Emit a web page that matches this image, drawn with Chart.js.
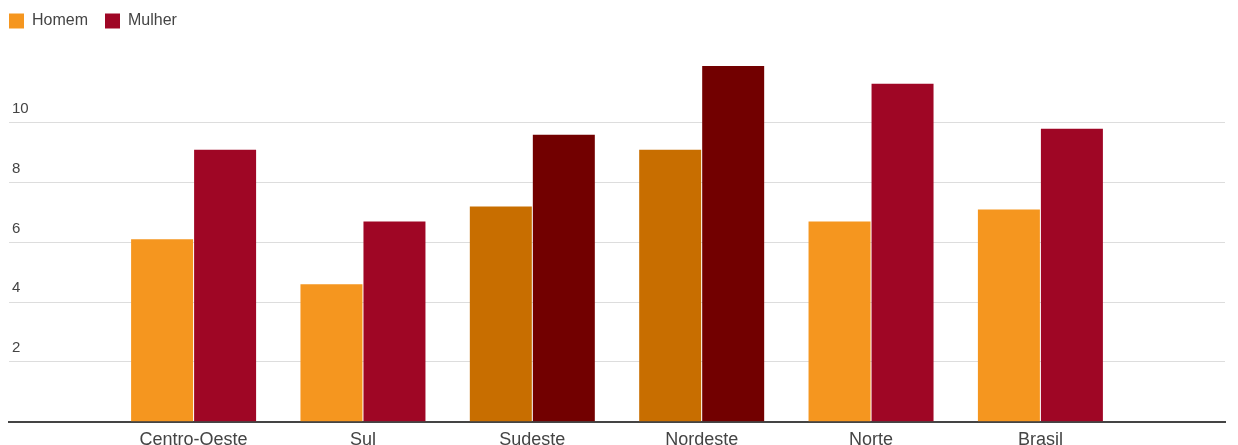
<!DOCTYPE html>
<html lang="pt-BR">
<head>
<meta charset="utf-8">
<title>Homem x Mulher por região</title>
<script src="https://cdn.jsdelivr.net/npm/chart.js@4.4.1/dist/chart.umd.min.js"></script>
<style>
  html, body { margin: 0; padding: 0; background: #ffffff; }
  #wrap { width: 1238px; height: 445px; }
</style>
</head>
<body>
<div id="wrap"><canvas id="grafico" width="1238" height="445"></canvas></div>
<script>
// Regiões e valores das duas séries
const regioes = ['Centro-Oeste', 'Sul', 'Sudeste', 'Nordeste', 'Norte', 'Brasil'];
const homem  = [6.1, 4.6, 7.2, 9.1, 6.7, 7.1];
const mulher = [9.1, 6.7, 9.6, 11.9, 11.3, 9.8];
const ticksY = [2, 4, 6, 8, 10];
// Regiões em destaque (tons mais escuros)
const destaque = ['Sudeste', 'Nordeste'];

const COR_HOMEM = '#f5961f', COR_HOMEM_ESC = '#c86e00';
const COR_MULHER = '#9f0625', COR_MULHER_ESC = '#720000';
const TEXTO = '#444444';
const FONTE = 'Liberation Sans, Arial, sans-serif';

const coresHomem  = regioes.map(r => destaque.includes(r) ? COR_HOMEM_ESC : COR_HOMEM);
const coresMulher = regioes.map(r => destaque.includes(r) ? COR_MULHER_ESC : COR_MULHER);

const pontos = serie => regioes.map((r, i) => ({ x: i, y: serie[i] }));

new Chart(document.getElementById('grafico'), {
  type: 'bar',
  data: {
    datasets: [
      { label: 'Homem',  data: pontos(homem),  backgroundColor: coresHomem,  borderWidth: 0 },
      { label: 'Mulher', data: pontos(mulher), backgroundColor: coresMulher, borderWidth: 0 }
    ]
  },
  options: {
    responsive: false,
    animation: false,
    devicePixelRatio: 1,
    // o espaçamento da legenda (17) é compensado pelo recuo negativo
    layout: { padding: { left: -8, right: 13, top: -4, bottom: 0 } },
    datasets: { bar: { categoryPercentage: 0.744, barPercentage: 0.984 } },
    plugins: {
      tooltip: { enabled: false },
      legend: {
        position: 'top',
        align: 'start',
        labels: {
          boxWidth: 15,
          boxHeight: 15,
          padding: 17,
          color: TEXTO,
          font: { family: FONTE, size: 16 },
          // legenda com a cor padrão de cada série
          generateLabels: chart => chart.data.datasets.map((ds, i) => ({
            text: ds.label,
            fillStyle: i === 0 ? COR_HOMEM : COR_MULHER,
            strokeStyle: 'transparent',
            fontColor: TEXTO,
            lineWidth: 0,
            datasetIndex: i,
            hidden: false
          }))
        }
      }
    },
    scales: {
      x: {
        type: 'linear',
        offset: false,
        min: -1.09,
        max: 6.09,
        grid: { display: false, drawTicks: false },
        border: { display: true, color: '#444444', width: 2 },
        afterBuildTicks: s => { s.ticks = regioes.map((r, i) => ({ value: i })); },
        afterFit: s => { s.height = 23.2; },
        ticks: {
          padding: 7,
          color: TEXTO,
          maxRotation: 0,
          autoSkip: false,
          font: { family: FONTE, size: 18 },
          callback: v => regioes[v] ?? ''
        }
      },
      y: {
        min: 0,
        max: 12.8,
        afterBuildTicks: s => { s.ticks = [0, ...ticksY].map(v => ({ value: v })); },
        afterFit: s => { s.width = 17; },
        border: { display: false },
        grid: {
          drawTicks: false,
          lineWidth: 1,
          color: c => (c.tick && c.tick.value === 0) ? 'rgba(0,0,0,0)' : '#dddddd'
        },
        ticks: {
          mirror: true,
          padding: 3,
          labelOffset: -14,
          color: TEXTO,
          font: { family: FONTE, size: 15 },
          callback: v => ticksY.includes(v) ? String(v) : ''
        }
      }
    }
  }
});
</script>
</body>
</html>
